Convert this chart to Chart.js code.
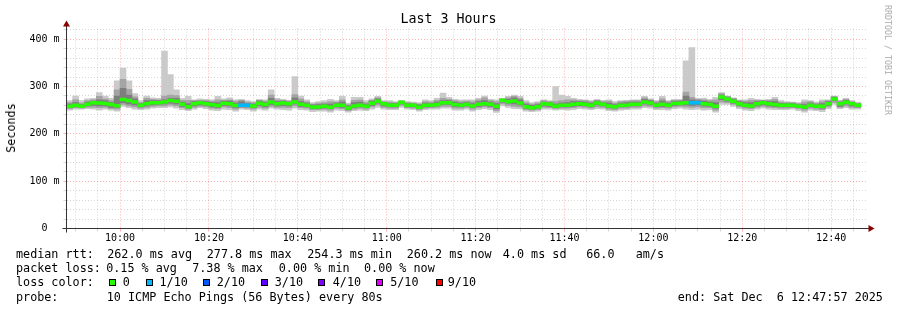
<!DOCTYPE html>
<html><head><meta charset="utf-8">
<script src="https://cdn.jsdelivr.net/npm/chart.js@4/dist/chart.umd.min.js"></script>
<style>
html,body{margin:0;padding:0;background:#fff;}
#wrap{position:relative;width:897px;height:310px;overflow:hidden;font-family:'DejaVu Sans Mono',monospace;color:#000;background:#fff;}
#c{position:absolute;left:0;top:0;width:897px;height:310px;}
.t{position:absolute;white-space:pre;font-size:11.75px;line-height:14px;}
.sq{position:absolute;width:5px;height:5px;border:1px solid #000;top:279px;}
</style></head><body>
<div id="wrap">
<canvas id="c" width="897" height="310"></canvas>
<div class="t" style="left:0;width:897px;text-align:center;top:11px;font-size:13.3px;line-height:16px">Last 3 Hours</div>
<div class="t" style="left:10.5px;top:127.5px;transform:translate(-50%,-50%) rotate(-90deg);">Seconds</div>
<div class="t" style="left:887.5px;top:60px;transform:translate(-50%,-50%) rotate(90deg);font-size:8.3px;line-height:10px;color:#aaa">RRDTOOL / TOBI OETIKER</div>
<div id="legend"></div>
</div>
<script>
// ---- data (ms) : 80 s bins starting 09:48:00 ----
const median = [258.4,260.2,258.0,262.3,265.8,265.1,264.0,262.0,259.5,272.5,
270.4,267.3,260.2,263.7,265.8,265.8,267.3,270.4,268.6,262.3,
257.3,263.7,265.8,263.7,261.2,259.8,264.8,263.4,259.8,260.2,
260.2,258.8,264.8,261.9,267.3,263.7,265.1,263.7,267.3,262.3,
260.2,256.6,256.6,258.0,256.3,260.2,260.2,254.3,258.8,260.2,
258.0,264.4,269.0,263.4,260.2,260.2,266.9,260.2,260.2,256.3,
260.2,260.2,261.9,265.5,265.5,261.9,260.2,261.9,258.8,262.3,
263.4,262.3,258.0,270.8,268.0,269.3,265.1,257.0,255.3,257.0,
263.7,262.3,258.0,260.2,260.2,262.3,263.4,262.3,260.2,265.1,
262.3,258.8,257.0,260.2,260.2,262.3,262.3,267.3,265.1,260.2,
262.3,260.2,264.0,264.8,265.8,265.5,265.5,263.4,261.9,258.4,
277.8,273.5,269.0,263.4,260.2,258.8,263.7,265.8,263.4,261.9,
260.2,260.2,260.2,258.0,256.6,260.2,258.0,258.0,263.4,273.5,
263.4,266.9,263.4,260.2];
const ping1 = [250,252,252,253,252,250,252,250,248,258,
255,252,251,252,254,255,255,257,254,251,
249,252,255,253,250,249,252,251,248,252,
251,248,252,250,254,252,251,250,254,251,
250,247,248,248,246,250,249,246,249,250,
249,252,256,252,251,251,256,252,251,248,
251,252,252,254,254,250,250,252,248,251,
253,251,245,259,256,253,253,248,247,248,
252,252,250,251,250,251,253,252,251,253,
252,249,248,250,251,252,252,255,254,251,
251,250,253,254,252,251,252,250,251,246,
262,262,258,253,250,249,252,254,252,251,
251,251,252,249,246,250,249,247,253,262,
253,255,252,252];
const ping2 = [253,255,254,256,256,255,256,253,252,262,
259,257,254,256,258,259,259,261,259,255,
252,256,258,257,254,253,257,255,252,255,
254,252,256,254,258,256,256,255,259,255,
254,251,251,252,250,254,253,249,252,254,
252,257,261,256,254,254,260,255,254,251,
254,255,256,258,258,254,254,256,252,255,
257,255,249,263,260,258,257,251,250,251,
256,255,253,254,254,255,257,256,254,257,
256,252,251,254,254,256,256,259,258,254,
255,254,257,258,257,256,257,255,255,250,
267,266,262,257,254,253,256,258,256,255,
254,254,255,253,250,254,252,251,257,266,
256,259,256,255];
const ping3 = [255,257,256,259,260,259,259,256,255,266,
263,261,257,259,261,262,263,265,263,258,
254,259,261,260,257,256,260,259,255,257,
257,255,260,257,262,259,260,259,263,258,
257,253,253,254,253,257,256,251,255,257,
255,260,265,259,257,257,263,257,257,253,
257,257,259,262,262,258,257,259,255,258,
260,258,253,267,264,263,261,254,252,254,
259,258,255,257,257,258,260,259,257,261,
259,255,254,257,257,259,259,263,261,257,
258,257,260,261,261,260,261,259,258,254,
272,269,265,260,257,256,259,261,259,258,
257,257,257,255,253,257,255,254,260,270,
258,263,259,257];
const ping8 = [263,266,262,267,269,272,270,266,280,296,
282,274,264,270,270,270,272,275,275,267,
264,268,269,268,266,266,269,269,265,268,
264,263,269,266,275,268,269,267,276,268,
265,261,262,263,263,265,267,259,266,267,
263,269,274,266,264,264,268,264,263,261,
265,264,267,270,270,267,265,266,264,268,
270,267,264,273,273,276,272,263,260,262,
267,266,263,265,266,268,268,267,265,269,
266,265,262,265,266,267,267,273,270,265,
269,265,268,269,280,272,270,269,267,266,
282,277,273,268,266,266,268,269,268,268,
264,264,264,262,262,265,262,264,268,277,
267,271,266,263];
const ping9 = [266,272,265,270,272,279,274,270,293,315,
294,278,266,275,273,272,280,282,281,271,
271,270,271,270,269,272,271,272,269,271,
267,266,271,269,282,272,271,269,283,274,
268,263,265,266,268,267,272,262,271,272,
266,271,276,268,267,266,269,266,265,263,
268,267,271,275,273,270,268,269,268,272,
276,270,268,274,276,279,275,266,263,265,
270,268,268,270,272,272,270,270,268,271,
268,269,265,268,269,270,270,276,272,268,
274,268,271,271,288,277,273,272,270,272,
285,279,275,270,269,271,271,271,271,273,
267,266,266,264,267,268,265,268,270,279,
269,273,268,265];
const ping10 = [270,280,270,274,275,287,280,275,312,339,
312,285,270,280,276,275,375,325,293,275,
279,272,274,273,272,279,274,276,272,273,
270,268,273,272,293,275,273,271,321,280,
272,266,268,270,273,270,279,265,277,277,
270,274,279,270,270,268,270,268,267,266,
272,270,275,286,277,273,272,272,272,275,
280,273,272,275,279,282,279,270,266,268,
272,270,300,282,279,275,273,272,270,273,
271,272,268,270,271,272,272,279,274,270,
279,270,273,273,354,382,275,275,273,277,
287,280,276,272,272,275,273,272,273,277,
270,268,267,266,272,270,267,272,272,280,
271,275,270,266];
const lossCount = [0,0,0,0,0,0,0,0,0,0, 0,0,0,0,0,0,0,0,0,0, 0,0,0,0,0,0,0,0,0,1,
1,0,0,0,0,0,0,0,0,0, 0,0,0,0,0,0,0,0,0,0, 0,0,0,0,0,0,0,0,0,0,
0,0,0,0,0,0,0,0,0,0, 0,0,0,0,0,0,0,0,0,0, 0,0,0,0,0,0,0,0,0,0,
0,0,0,0,0,0,0,0,0,0, 0,0,0,0,0,1,1,0,0,0, 0,0,0,0,0,0,0,0,0,0,
0,0,0,0,0,0,0,0,0,0, 0,0,0,0];
const lossLegend = ['0','1/10','2/10','3/10','4/10','5/10','9/10'];
const lossColors = ['#26ff00','#00b8ff','#0059ff','#5e00ff','#7e00ff','#dd00ff','#ff0000'];
const yLabels = {0:'0  ',100:'100 m',200:'200 m',300:'300 m',400:'400 m'};

// ---- time frame ----
const START = 9*3600 + 47*60 + 57;   // 09:47:57
const END = START + 3*3600;          // 12:47:57
const FIRST_BIN = 9*3600 + 48*60;    // 09:48:00
const STEP = 80;
const binX = median.map((_, i) => FIRST_BIN + STEP*i + STEP/2);
const MED_HALF = 3.0;

// ---- legend text ----
const legendItems = [
 ['median rtt:',16,247],['262.0 ms avg',107.2,247],['277.8 ms max',206.8,247],['254.3 ms min',307.2,247],['260.2 ms now',406.8,247],['4.0 ms sd',502.8,247],['66.0   am/s',586.2,247],
 ['packet loss:',16,261.2],['0.15 % avg',106.2,261.2],['7.38 % max',192.2,261.2],['0.00 % min',278.8,261.2],['0.00 % now',364,261.2],
 ['loss color:',16,275.4],
 ['probe:',16,289.6],['10 ICMP Echo Pings (56 Bytes) every 80s',106.8,289.6],['end: Sat Dec  6 12:47:57 2025',677.8,289.6]
];
const sqX = [108.5,145.5,202.5,260.5,318,375.5,436];
const lblX = [122.8,159.5,216.8,274.8,332.8,390.2,447.8];
const lg = document.getElementById('legend');
legendItems.forEach(([t,x,y]) => { const d=document.createElement('div'); d.className='t'; d.style.left=x+'px'; d.style.top=y+'px'; d.textContent=t; lg.appendChild(d); });
lossLegend.forEach((t,i) => {
  const s=document.createElement('div'); s.className='sq'; s.style.left=sqX[i]+'px'; s.style.background=lossColors[i]; lg.appendChild(s);
  const d=document.createElement('div'); d.className='t'; d.style.left=lblX[i]+'px'; d.style.top='275.4px'; d.textContent=t; lg.appendChild(d);
});

function lossColor(c){ return c >= 6 ? lossColors[6] : lossColors[c]; }
function layer(lo, hi, color, order){
  return {type:'bar', data: lo.map((v,i)=>({x: binX[i], y:[v, hi[i]]})), backgroundColor: color,
    borderWidth:0, grouped:false, barPercentage:1, categoryPercentage:1, order};
}
const GRID = 'rgba(128,128,128,0.32)';
const MGRID = 'rgba(255,0,0,0.30)';
const FONT = "'DejaVu Sans Mono', monospace";
function hhmm(v){ const h=Math.floor(v/3600), m=Math.floor((v%3600)/60); return String(h).padStart(2,'0')+':'+String(m).padStart(2,'0'); }

const axesPlugin = {
  id:'rrdAxes',
  afterDraw(chart){
    const {ctx, chartArea:a} = chart;
    const x0 = a.left, y0 = chart.scales.y.getPixelForValue(0);
    ctx.save();
    ctx.strokeStyle = '#333'; ctx.lineWidth = 1;
    ctx.beginPath();
    ctx.moveTo(x0-4, y0); ctx.lineTo(a.right+4, y0);
    ctx.moveTo(x0, y0+4); ctx.lineTo(x0, a.top-4);
    ctx.stroke();
    ctx.fillStyle = '#8b0000';
    ctx.beginPath();
    ctx.moveTo(a.right+2, y0-3.5); ctx.lineTo(a.right+2, y0+3.5); ctx.lineTo(a.right+8, y0); ctx.closePath(); ctx.fill();
    ctx.beginPath();
    ctx.moveTo(x0-3.5, a.top-2); ctx.lineTo(x0+3.5, a.top-2); ctx.lineTo(x0, a.top-8); ctx.closePath(); ctx.fill();
    ctx.restore();
  }
};

new Chart(document.getElementById('c'), {
  type:'bar',
  data:{ datasets:[
    {type:'bar', label:'median', data: median.map((m,i)=>({x: binX[i], y:[m-MED_HALF, m+MED_HALF]})),
      backgroundColor: lossCount.map(lossColor), borderWidth:0, grouped:false, barPercentage:1, categoryPercentage:1, order:0},
    layer(ping3, ping8, '#7e7e7e', 1),
    layer(ping2, ping9, '#a4a4a4', 2),
    layer(ping1, ping10, '#cacaca', 3)
  ]},
  options:{
    responsive:false, animation:false, devicePixelRatio:1, events:[],
    layout:{padding:{left:0, right:30.5, top:28.5, bottom:61.5}},
    plugins:{legend:{display:false}, tooltip:{enabled:false}, title:{display:false}},
    scales:{
      x:{type:'linear', min:START, max:END, offset:false,
        grid:{offset:false, lineWidth:1, drawTicks:true, tickLength:3,
          color: c => (c.tick && c.tick.value % 1200 === 0) ? MGRID : GRID,
          tickColor: c => (c.tick && c.tick.value % 1200 === 0) ? MGRID : GRID},
        border:{display:false, dash:[1,2]},
        ticks:{autoSkip:false, maxRotation:0, minRotation:0, padding:1, color:'#000',
          font:{family:FONT, size:10}, callback: v => v % 1200 === 0 ? hhmm(v) : ''},
        afterBuildTicks: s => { const t=[]; for (let v=Math.ceil(START/300)*300; v<=END; v+=300) t.push({value:v}); s.ticks=t; },
        afterFit: s => { s.height = 20; }
      },
      y:{min:0, max:422.5,
        grid:{lineWidth:1, drawTicks:true, tickLength:3,
          color: c => { const v=c.tick?c.tick.value:0; return v===0 ? 'rgba(0,0,0,0)' : (v%100===0 ? MGRID : GRID); },
          tickColor: c => { const v=c.tick?c.tick.value:0; return v===0 ? 'rgba(0,0,0,0)' : (v%100===0 ? MGRID : GRID); }},
        border:{display:false, dash:[1,2]},
        ticks:{autoSkip:false, padding:4, color:'#000', font:{family:FONT, size:10},
          callback: v => (v in yLabels) ? yLabels[v] : ''},
        afterBuildTicks: s => { const t=[]; for (let v=0; v<=420; v+=20) t.push({value:v}); s.ticks=t; },
        afterFit: s => { s.width = 66.5; }
      }
    }
  },
  plugins:[axesPlugin]
});
</script>
</body></html>
